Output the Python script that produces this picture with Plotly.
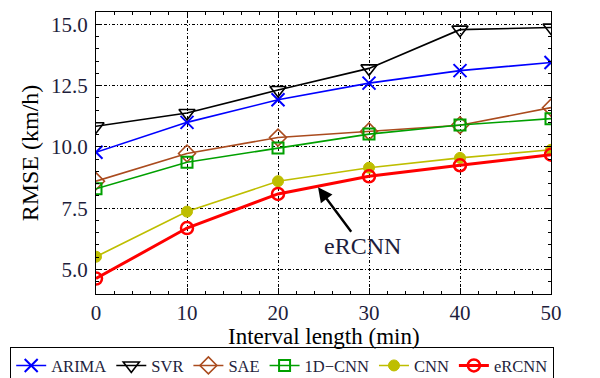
import plotly.graph_objects as go

x_vals = [0, 10, 20, 30, 40, 50]
arima = [9.78, 11.0, 11.92, 12.6, 13.11, 13.44]
svr = [10.84, 11.38, 12.32, 13.2, 14.78, 14.87]
sae = [8.6, 9.73, 10.38, 10.63, 10.88, 11.6]
cnn1d = [8.29, 9.37, 9.95, 10.52, 10.89, 11.15]
cnn = [5.52, 7.36, 8.6, 9.15, 9.55, 9.88]
ercnn = [4.63, 6.69, 8.08, 8.8, 9.25, 9.68]

names = ["ARIMA", "SVR", "SAE", "1D\u2212CNN", "CNN", "eRCNN"]
series = [arima, svr, sae, cnn1d, cnn, ercnn]
colors = ["rgb(0,0,255)", "rgb(0,0,0)", "rgb(170,75,30)", "rgb(0,160,0)", "rgb(190,190,0)", "rgb(255,0,0)"]
symbols = ["x-thin-open", "triangle-down-open", "diamond-open", "square-open", "circle", "circle-open"]
sizes = [13, 14, 13, 11, 11, 12]
widths = [1.6, 1.6, 1.6, 1.6, 1.6, 3]
mwidths = [2, 1.6, 1.6, 2, 1, 2.5]

fig = go.Figure()
for n, s, c, sym, sz, w, mw in zip(names, series, colors, symbols, sizes, widths, mwidths):
    fig.add_trace(go.Scatter(
        x=x_vals, y=s, name=n, mode="lines+markers",
        line=dict(color=c, width=w),
        marker=dict(symbol=sym, size=sz, color=c, line=dict(color=c, width=mw)),
    ))

font_family = "Liberation Serif"

fig.add_annotation(
    x=24.4, y=8.35, xref="x", yref="y",
    ax=44, ay=59, axref="pixel", ayref="pixel",
    text="eRCNN", showarrow=True, arrowhead=2, arrowsize=1.2, arrowwidth=2.4,
    arrowcolor="black", font=dict(family=font_family, size=24, color="rgb(30,30,60)"),
)

# x-axis title placed as paper annotation to sit close to the tick labels
fig.add_annotation(
    x=0.5, y=-0.15, xref="paper", yref="paper", xanchor="center", yanchor="middle",
    text="Interval length (min)", showarrow=False,
    font=dict(family=font_family, size=23, color="black"),
)

axis_common = dict(
    showline=True, linecolor="black", linewidth=1.2, mirror="ticks",
    ticks="inside", ticklen=6, tickcolor="black",
    showgrid=True, gridcolor="black", gridwidth=1, griddash="3px,2px,1px,2px",
    zeroline=False,
    tickfont=dict(family=font_family, size=21, color="rgb(30,30,60)"),
)

fig.update_xaxes(
    range=[0, 50], tick0=0, dtick=10,
    minor=dict(dtick=2, ticks="inside", ticklen=3, tickcolor="black", showgrid=False),
    **axis_common,
)
fig.update_yaxes(
    range=[4.0, 15.5], tick0=5, dtick=2.5, tickformat=".1f",
    minor=dict(dtick=0.5, ticks="inside", ticklen=3, tickcolor="black", showgrid=False),
    title=dict(text="RMSE (km/h)", font=dict(family=font_family, size=24, color="black"), standoff=5),
    ticklabelstandoff=3,
    **axis_common,
)

# page body has an 8px default margin, so the figure is sized/offset to compensate
fig.update_layout(
    width=592, height=370,
    margin=dict(l=88, r=49, t=4, b=84, autoexpand=False),
    plot_bgcolor="white", paper_bgcolor="white",
    legend=dict(
        orientation="h", x=-0.189, xanchor="left", xref="paper",
        y=-0.188, yanchor="top", yref="paper",
        bordercolor="black", borderwidth=1.2,
        font=dict(family=font_family, size=16.5, color="rgb(30,30,60)"),
        itemwidth=30, tracegroupgap=0,
    ),
    showlegend=True,
)

fig.write_html("out.html")
